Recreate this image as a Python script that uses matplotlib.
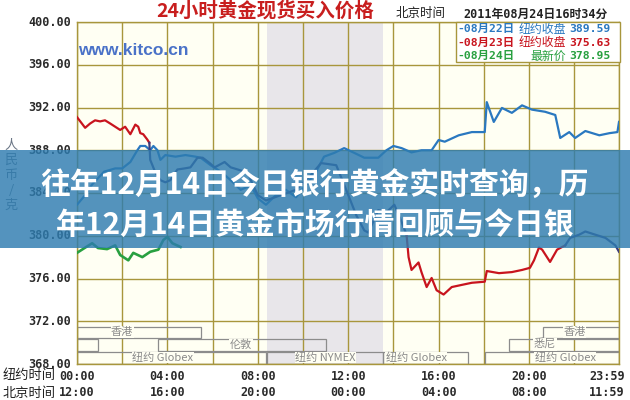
import matplotlib
matplotlib.use("Agg")
import matplotlib.pyplot as plt
from matplotlib.patches import Rectangle

# ---------------- data ----------------
y_ticks = [368, 372, 376, 380, 384, 388, 392, 396, 400]
x_tick_hours = [0, 4, 8, 12, 16, 20, 23.98]
ny_labels = ["00:00", "04:00", "08:00", "12:00", "16:00", "20:00", "23:59"]
bj_labels = ["12:00", "16:00", "20:00", "00:00", "04:00", "08:00", "11:59"]

# 08-22 (blue)
blue_hours = [0, 0.36, 0.67, 1.2, 1.69, 2.0, 2.36, 2.67, 2.8, 3.02, 3.24, 3.38, 3.56, 3.69,
              3.91, 4.36, 4.8, 5.24, 5.47, 5.91, 6.36, 6.8, 7.24, 7.69, 8.0, 8.36, 8.8, 9.24,
              9.69, 10.13, 10.58, 10.93, 11.38, 11.82, 12.27, 12.71, 13.33, 13.69, 14.0, 14.36,
              14.8, 15.24, 15.69, 16.0, 16.27, 16.89, 17.47, 18.04, 18.13, 18.44, 18.8, 19.24,
              19.69, 20.13, 20.71, 21.16, 21.38, 21.78, 22.04, 22.49, 23.11, 23.56, 23.91, 23.98]
blue_prices = [382.9, 383.8, 384.8, 386.0, 386.3, 386.3, 386.9, 388.0, 388.4, 388.4, 388.0, 388.4,
               388.0, 387.1, 387.55, 387.4, 387.55, 387.4, 387.3, 386.6, 386.0, 385.2, 384.3,
               384.7, 383.5, 382.9, 383.8, 384.3, 383.6, 384.75, 386.0, 387.4, 387.75, 388.2,
               387.75, 387.3, 387.3, 388.0, 388.4, 388.2, 387.8, 388.0, 388.0, 388.96, 388.8,
               389.4, 389.7, 389.7, 392.5, 390.65, 391.96, 391.5, 392.2, 391.8, 391.6, 391.3,
               389.15, 389.7, 389.15, 389.8, 389.4, 389.6, 389.7, 390.65]

# 08-23 (red, with darker stretches)
red_a_hours = [0, 0.18, 0.36, 0.58, 0.8, 1.02, 1.24, 1.47, 1.69, 1.91, 2.13, 2.36, 2.58, 2.71,
               2.8, 2.93, 3.11, 3.2]
red_a_prices = [391.1, 390.6, 390.1, 390.5, 390.8, 390.7, 390.8, 390.5, 390.2, 389.9, 390.2,
                389.5, 390.4, 390.2, 389.6, 389.5, 389.0, 388.7]
navy_b_hours = [3.2, 3.24, 3.47, 3.69, 3.91, 4.13, 4.44, 4.76, 5.02, 5.33, 5.56, 5.87, 6.09,
                6.53, 6.8, 7.11, 7.56, 7.69, 8.0, 8.36, 9.02, 9.69, 10.36, 10.8, 11.47, 11.91,
                12.36, 12.71, 12.89, 13.33, 13.69, 14.04, 14.36, 14.58]
navy_b_prices = [388.7, 387.1, 385.9, 385.2, 385.0, 385.2, 386.2, 386.3, 386.4, 387.3, 387.3,
                 386.8, 386.4, 386.9, 386.4, 386.2, 385.9, 385.2, 383.8, 383.3, 383.8, 384.3,
                 385.7, 386.8, 386.6, 384.3, 381.9, 380.5, 380.3, 382.4, 382.2, 382.9, 381.3,
                 380.1]
red_c_hours = [14.58, 14.67, 14.8, 15.11, 15.24, 15.47, 15.69, 15.91, 16.22, 16.58, 17.02, 17.47,
               18.04, 18.13, 18.67, 19.24, 19.69, 20.04, 20.22, 20.44, 20.58, 20.93, 21.24, 21.6]
red_c_prices = [380.1, 378.0, 376.8, 377.5, 376.6, 375.2, 376.05, 374.9, 374.5, 375.2, 375.4,
                375.6, 375.7, 376.7, 376.5, 376.6, 376.8, 377.0, 377.7, 378.9, 378.7, 377.55,
                378.7, 379.1]
navy_d_hours = [21.6, 21.82, 22.22, 22.49, 22.93, 23.38, 23.82, 23.98]
navy_d_prices = [379.1, 379.8, 380.1, 380.4, 380.1, 379.8, 379.1, 378.5]

# 08-24 (green)
green_hours = [0, 0.22, 0.67, 0.93, 1.33, 1.69, 1.91, 2.27, 2.49, 2.89, 3.24, 3.6, 3.82, 4.0,
               4.22, 4.58]
green_prices = [378.4, 378.7, 379.3, 378.85, 378.75, 379.1, 378.2, 377.7, 378.4, 378.0, 378.5,
                378.7, 379.6, 379.9, 379.3, 378.95]

# market sessions: (row, start hour, end hour, label, label hour)
sessions = [
    (0, 0.0, 5.47, "香港", 2.0),
    (0, 20.6, 23.98, "香港", 22.0),
    (1, 0.0, 0.93, "", 0),
    (1, 3.6, 11.0, "伦敦", 7.25),
    (1, 19.1, 23.98, "悉尼", 20.7),
    (2, 0.0, 8.36, "纽约 Globex", 3.8),
    (2, 8.4, 13.55, "纽约 NYMEX", 11.0),
    (2, 13.55, 17.3, "纽约 Globex", 15.0),
    (2, 18.04, 23.98, "纽约 Globex", 21.6),
]
session_rows = [(370.43, 371.46), (369.2, 370.34), (368.0, 369.12)]

legend_dates = ["-08月22日", "-08月23日", "-08月24日"]
legend_kinds = ["纽约收盘", "纽约收盘", "最新价"]
legend_values = ["389.59", "375.63", "378.95"]

# ---------------- style ----------------
W, H = 630, 400
GRID = "#a8963c"
BLUE, RED, NAVY, GREEN = "#2a78c0", "#c8141e", "#3c3c7c", "#28a040"
MONO = ["DejaVu Sans Mono", "Noto Sans CJK SC"]
CJK = ["Noto Sans CJK SC", "DejaVu Sans"]
plt.rcParams["font.family"] = CJK


def fx(px):
    return px / W


def fy(py):
    return 1 - py / H


fig = plt.figure(figsize=(6.3, 4.0), dpi=100, facecolor="white")
ax = fig.add_axes([fx(77), fy(364), (619 - 77) / W, (364 - 22) / H])
ax.set_facecolor("#fffff3")
ax.set_xlim(0, 23.98)
ax.set_ylim(368, 400)

# gray band
ax.axvspan(8.4, 13.55, color="#e8e6ea", zorder=0.5, lw=0)

# grid
for v in y_ticks:
    ax.axhline(v, color=GRID, lw=1.0, zorder=1)
for h in range(0, 25, 2):
    ax.axvline(min(h, 23.98), color=GRID, lw=1.0, zorder=1)
for s in ax.spines.values():
    s.set_color(GRID)
    s.set_linewidth(1.0)
ax.set_xticks([])
ax.set_yticks([])

# session boxes
for row, h0, h1, lab, lh in sessions:
    lo, hi = session_rows[row]
    ax.add_patch(Rectangle((h0, lo), h1 - h0, hi - lo, fill=False, ec="#8c8c8c",
                           lw=0.9, zorder=2))
    if lab:
        ax.text(lh, (lo + hi) / 2 + 0.05, lab, ha="center", va="center", fontsize=8,
                color="#8a8a8a", zorder=3,
                bbox=dict(boxstyle="square,pad=0.05", fc="#fffff3", ec="none"))

# lines
lw = 1.6
ax.plot(blue_hours, blue_prices, color=BLUE, lw=lw, zorder=4)
ax.plot(red_a_hours, red_a_prices, color=RED, lw=lw, zorder=5)
ax.plot(navy_b_hours, navy_b_prices, color=NAVY, lw=lw, zorder=5)
ax.plot(red_c_hours, red_c_prices, color=RED, lw=lw, zorder=5)
ax.plot(navy_d_hours, navy_d_prices, color=NAVY, lw=lw, zorder=5)
ax.plot(green_hours, green_prices, color=GREEN, lw=lw + 0.3, zorder=6)

# y tick labels
for v in y_ticks:
    ax.text(-0.25, v, f"{v:.2f}", ha="right", va="center", fontsize=8.5,
            family=MONO, weight="bold", color="#2a2a2a", clip_on=False)

# x tick labels (two rows)
x0, x1 = ax.get_xlim()
for h, a, b in zip(x_tick_hours, ny_labels, bj_labels):
    hh = h if h < 23 else 23.45
    px = 77 + (hh - x0) / (x1 - x0) * (619 - 77)
    fig.text(fx(px), fy(376), a, ha="center", va="center", fontsize=8.5, family=MONO,
             weight="bold", color="#2a2a2a")
    fig.text(fx(px), fy(393), b, ha="center", va="center", fontsize=8.5, family=MONO,
             weight="bold", color="#2a2a2a")
fig.text(fx(3), fy(376), "纽约时间", ha="left", va="center", fontsize=9.5, color="#222")
fig.text(fx(3), fy(393), "北京时间", ha="left", va="center", fontsize=9.5, color="#222")

# y-axis unit label
for i, ch in enumerate(["人", "民", "币", "/", "克"]):
    fig.text(fx(11), fy(145 + i * 15), ch, ha="center", va="center", fontsize=9.5,
             color="#6a7686")

# title and time header
fig.text(fx(265), fy(11), "24小时黄金现货买入价格", ha="center", va="center",
         fontsize=14, weight="bold", color="#c81e1e")
fig.text(fx(396), fy(14), "北京时间", ha="left", va="center", fontsize=9, color="#222")
fig.text(fx(463), fy(14), "2011年08月24日16时34分", ha="left", va="center",
         fontsize=8.5, family=MONO, weight="bold", color="#222")

# watermark
ax.text(0.05, 397.3, "www.kitco.cn", ha="left", va="center", fontsize=12.5,
        family=["Liberation Sans"], weight="bold", color="#4a72c8", zorder=3)

# legend box
lg = Rectangle((fx(456), fy(62)), (620 - 456) / W, (62 - 22) / H, transform=fig.transFigure,
               fc="white", ec=GRID, lw=1.0, zorder=4)
fig.patches.append(lg)
for i, (d, k, v, c) in enumerate(zip(legend_dates, legend_kinds, legend_values,
                                     [BLUE, RED, GREEN])):
    yy = fy(29 + i * 13.5)
    fig.text(fx(457), yy, d, ha="left", va="center", fontsize=8.2, family=MONO,
             weight="bold", color=c, zorder=5)
    fig.text(fx(566), yy, k, ha="right", va="center", fontsize=8.6, color=c, zorder=5)
    fig.text(fx(569), yy, v, ha="left", va="center", fontsize=8.2, family=MONO,
             weight="bold", color=c, zorder=5)

# overlay banner
banner = Rectangle((0, fy(248)), 1, (248 - 150) / H, transform=fig.transFigure,
                   fc="#2e7cb0", alpha=0.82, ec="none", zorder=10)
fig.patches.append(banner)
fig.text(0.5, fy(186), "往年12月14日今日银行黄金实时查询，历", ha="center", va="center",
         fontsize=21.5, weight="bold", color="white", zorder=11)
fig.text(0.5, fy(226), "年12月14日黄金市场行情回顾与今日银", ha="center", va="center",
         fontsize=21.5, weight="bold", color="white", zorder=11)

fig.savefig("out.png", dpi=100, facecolor="white")
